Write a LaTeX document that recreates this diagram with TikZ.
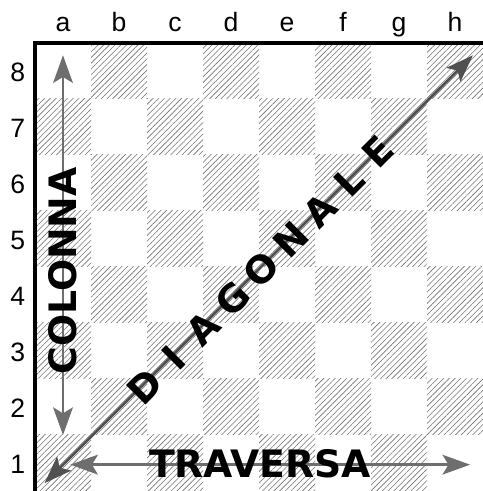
\documentclass[tikz,border=0pt]{standalone}
\usepackage{fontspec}
\setmainfont{Liberation Sans}
\newfontfamily\wordfont{DejaVu Sans}
\usepackage{tikz}
\usetikzlibrary{arrows.meta, patterns.meta}
\definecolor{hatch}{RGB}{115, 115, 115}
\definecolor{arrowgray}{RGB}{110, 110, 110}
\definecolor{diaggray}{RGB}{80, 80, 80}

\tikzset{
  darksq/.style={pattern={Lines[angle=45, distance=2.05pt, line width=0.3pt]}, pattern color=hatch},
  coordlabel/.style={font=\fontsize{13.5}{16}\selectfont},
  bigword/.style={font=\wordfont\bfseries\fontsize{19.2}{21}\selectfont, inner sep=0pt},
  movearrow/.style={arrowgray, line width=1.4pt, {Stealth[length=14pt, width=10pt, inset=3pt]}-{Stealth[length=14pt, width=10pt, inset=3pt]}}
}

\begin{document}
\begin{tikzpicture}[x=1cm, y=1cm]
          \useasboundingbox (-0.625,0) rectangle (8,8.768);
          % hatched squares
          \foreach \col in {0,...,7}
            \foreach \row in {0,...,7}{
              \pgfmathtruncatemacro\parity{mod(\col+\row,2)}
              \ifnum\parity=0
                \fill[darksq] (\col,\row) rectangle ++(1,1);
              \fi
            }
          \draw[line width=1.6pt] (0,0) -- (0,8) -- (8,8);
          % files and ranks
          \foreach \f [count=\i] in {a,b,c,d,e,f,g,h}
            \node[coordlabel, anchor=base] (file\f) at (\i-0.5,8.2) {\f};
          \foreach \r in {1,...,8}
            \node[coordlabel] (rank\r) at (-0.31,\r-0.52) {\r};
          % arrow ends
          \coordinate (colTop) at (0.5,7.78);
          \coordinate (colBot) at (0.5,1.0);
          \coordinate (travLeft) at (0.63,0.47);
          \coordinate (travRight) at (7.77,0.47);
          \coordinate (diagLow) at (0.17,0.14);
          \coordinate (diagHigh) at (7.82,7.78);
          \draw[movearrow] (colBot) -- (colTop);
          \draw[movearrow] (travLeft) -- (travRight);
          \draw[movearrow, diaggray] (diagLow) -- (diagHigh);
          % words
          \node[bigword, rotate=90] (colonna) at (0.5,3.93) {COLONNA};
          \node[bigword] (traversa) at (4.02,0.48) {TRAVERSA};
          \foreach \letter [count=\k] in {D,I,A,G,O,N,A,L,E}
            \node[bigword, rotate=45] (diag\k) at ({1.964+0.52*(\k-1)},{1.857+0.525*(\k-1)}) {\letter};
        \end{tikzpicture}
\end{document}
